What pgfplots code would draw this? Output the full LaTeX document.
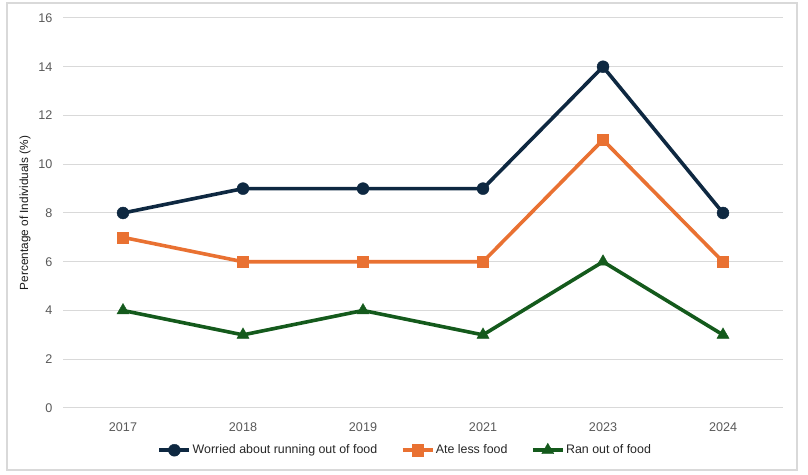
\documentclass[border=0pt]{standalone}
\usepackage{pgfplots}
\pgfplotsset{compat=1.18}
\usepackage{fontspec}
\setmainfont{Liberation Sans}
\definecolor{navy}{HTML}{0E2841}
\definecolor{orng}{HTML}{E97132}
\definecolor{grn}{HTML}{145A1C}
\definecolor{txt}{HTML}{595959}
\definecolor{grd}{HTML}{D9D9D9}
\begin{document}
\begin{tikzpicture}[x=1bp,y=1bp]
  \path (0,0) rectangle (808,475);
  \draw[grd, line width=1.5bp] (7,5) rectangle (797,472);
  \begin{axis}[
      at={(63bp,67bp)}, anchor=south west,
      scale only axis,
      width=720bp, height=390bp,
      xmin=-0.5, xmax=5.5, ymin=0, ymax=16,
      xtick={0,...,5},
      xticklabels={2017,2018,2019,2021,2023,2024},
      ytick={0,2,...,16},
      axis line style={draw=none},
      tick style={draw=none},
      ymajorgrids, grid style={grd, line width=1bp},
      ticklabel style={font=\fontsize{12.6bp}{14bp}\selectfont, text=txt},
      /pgf/number format/assume math mode=true,
      xticklabel style={yshift=-11bp},
      yticklabel style={xshift=-7bp},
      ylabel={Percentage of Individuals (\%)},
      ylabel style={font=\fontsize{11.8bp}{14bp}\selectfont, text=black!90, at={(-38bp,195bp)}, anchor=center},
      legend columns=3,
      legend style={at={(0.475,-0.108)}, anchor=center, draw=none, fill=none,
        font=\fontsize{12.4bp}{14bp}\selectfont, text=black!85,
        /tikz/every even column/.append style={column sep=22bp},
        inner sep=0pt, nodes={inner sep=1.5bp}},
      legend image code/.code={\draw[mark repeat=2,mark phase=2,#1] plot coordinates {(0bp,0bp) (15bp,0bp) (30bp,0bp)};},
      every axis plot/.append style={line width=3.6bp},
    ]
    \addplot[navy, mark=*, mark size=6bp, mark options={line width=0.4bp}] coordinates {
      (0,8) (1,9) (2,9) (3,9) (4,14) (5,8)};
    \addlegendentry{Worried about running out of food}
    \addplot[orng, mark=square*, mark size=5.6bp, mark options={line width=0.4bp}] coordinates {
      (0,7) (1,6) (2,6) (3,6) (4,11) (5,6)};
    \addlegendentry{Ate less food}
    \addplot[grn, mark=triangle*, mark size=7bp, mark options={line width=0.4bp}] coordinates {
      (0,4) (1,3) (2,4) (3,3) (4,6) (5,3)};
    \addlegendentry{Ran out of food}
  \end{axis}
\end{tikzpicture}
\end{document}
